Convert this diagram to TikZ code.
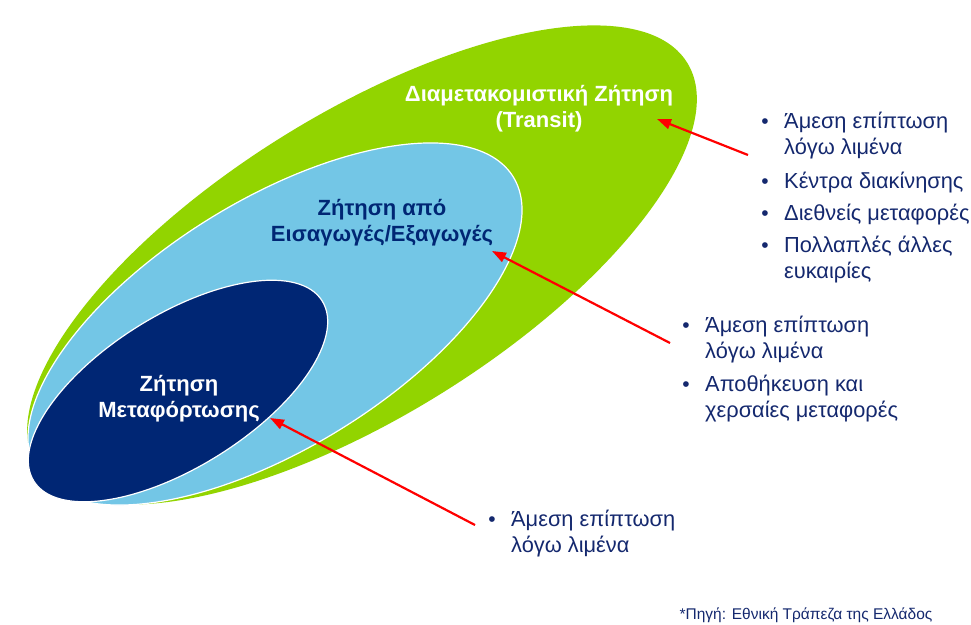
\documentclass[tikz,border=0pt]{standalone}
\usepackage{fontspec}
\setmainfont{Liberation Sans}
\usetikzlibrary{arrows.meta}
\definecolor{grn}{RGB}{146,212,0}
\definecolor{lblue}{RGB}{115,198,230}
\definecolor{dblue}{RGB}{0,38,116}
\definecolor{txtblue}{RGB}{20,40,110}
\definecolor{arrred}{RGB}{255,0,0}
\tikzset{
 lbl/.style={font=\fontsize{22}{26}\selectfont\bfseries, align=center, inner sep=0pt},
 bul/.style={font=\fontsize{21.8}{26}\selectfont, text=txtblue, anchor=base west, inner sep=0pt},
 dot/.style={font=\fontsize{21}{26}\selectfont, text=txtblue, anchor=base, inner sep=0pt},
 redarrow/.style={draw=arrred, line width=2.2pt, -{Triangle[length=14pt,width=10pt]}},
 srcnote/.style={font=\fontsize{15.5}{18}\selectfont, text=txtblue, anchor=base, inner sep=0pt},
}
\begin{document}
\begin{tikzpicture}[x=1pt,y=1pt]
\useasboundingbox (0,0) rectangle (971,-624);
% ellipses
\fill[grn, rotate around={31.9:(362,-265)}] (362,-265) ellipse [x radius=383, y radius=151];
\filldraw[fill=lblue, draw=white, line width=1.2pt, rotate around={31.7:(275,-324)}] (275,-324) ellipse [x radius=280, y radius=124];
\filldraw[fill=dblue, draw=white, line width=1.2pt, rotate around={32:(178,-391)}] (178,-391) ellipse [x radius=170, y radius=76];
% labels
\node[lbl, text=white] (transit) at (539,-108.5) {Διαμετακομιστική Ζήτηση\\(Transit)};
\node[lbl, text=dblue] (impexp) at (382,-223) {Ζήτηση από\\Εισαγωγές/Εξαγωγές};
\node[lbl, text=white] (transh) at (179,-399) {Ζήτηση\\Μεταφόρτωσης};
% block 1
\node[dot] (d11) at (765,-128) {•};
\node[bul] (t11) at (784,-128) {Άμεση επίπτωση};
\node[bul] (t12) at (784,-154) {λόγω λιμένα};
\node[dot] (d12) at (765,-188) {•};
\node[bul] (t13) at (784,-188) {Κέντρα διακίνησης};
\node[dot] (d13) at (765,-220) {•};
\node[bul] (t14) at (784,-220) {Διεθνείς μεταφορές};
\node[dot] (d14) at (765,-252) {•};
\node[bul] (t15) at (784,-252) {Πολλαπλές άλλες};
\node[bul] (t16) at (784,-278) {ευκαιρίες};
% block 2
\node[dot] (d21) at (686,-332) {•};
\node[bul] (t21) at (705,-332) {Άμεση επίπτωση};
\node[bul] (t22) at (705,-358) {λόγω λιμένα};
\node[dot] (d22) at (686,-391) {•};
\node[bul] (t23) at (705,-391) {Αποθήκευση και};
\node[bul] (t24) at (705,-417) {χερσαίες μεταφορές};
% block 3
\node[dot] (d31) at (492,-526) {•};
\node[bul] (t31) at (511,-526) {Άμεση επίπτωση};
\node[bul] (t32) at (511,-552) {λόγω λιμένα};
% source
\node[srcnote] (src) at (806,-619) {*Πηγή: Εθνική Τράπεζα της Ελλάδος};
% arrows
\coordinate (a1s) at (748,-155); \coordinate (a1e) at (657,-119);
\coordinate (a2s) at (670,-343); \coordinate (a2e) at (492,-251);
\coordinate (a3s) at (475,-525); \coordinate (a3e) at (270,-418);
\draw[redarrow] (a1s) -- (a1e);
\draw[redarrow] (a2s) -- (a2e);
\draw[redarrow] (a3s) -- (a3e);
\end{tikzpicture}
\end{document}
